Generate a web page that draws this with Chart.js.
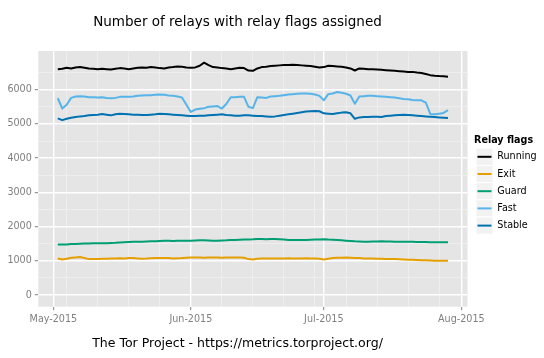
<!DOCTYPE html>
<html><head><meta charset="utf-8">
<script src="https://cdn.jsdelivr.net/npm/chart.js@4.4.0/dist/chart.umd.min.js"></script>
<style>html,body{margin:0;padding:0;background:#fff}#wrap{width:544px;height:358px;position:relative}</style>
</head><body><div id="wrap"><canvas id="c" width="544" height="358"></canvas></div>
<script>
const dates = [
'2015-05-02','2015-05-03','2015-05-04','2015-05-05','2015-05-06','2015-05-07','2015-05-08','2015-05-09','2015-05-10','2015-05-11',
'2015-05-12','2015-05-13','2015-05-14','2015-05-15','2015-05-16','2015-05-17','2015-05-18','2015-05-19','2015-05-20','2015-05-21',
'2015-05-22','2015-05-23','2015-05-24','2015-05-25','2015-05-26','2015-05-27','2015-05-28','2015-05-29','2015-05-30','2015-05-31',
'2015-06-01','2015-06-02','2015-06-03','2015-06-04','2015-06-05','2015-06-06','2015-06-07','2015-06-08','2015-06-09','2015-06-10',
'2015-06-11','2015-06-12','2015-06-13','2015-06-14','2015-06-15','2015-06-16','2015-06-17','2015-06-18','2015-06-19','2015-06-20',
'2015-06-21','2015-06-22','2015-06-23','2015-06-24','2015-06-25','2015-06-26','2015-06-27','2015-06-28','2015-06-29','2015-06-30',
'2015-07-01','2015-07-02','2015-07-03','2015-07-04','2015-07-05','2015-07-06','2015-07-07','2015-07-08','2015-07-09','2015-07-10',
'2015-07-11','2015-07-12','2015-07-13','2015-07-14','2015-07-15','2015-07-16','2015-07-17','2015-07-18','2015-07-19','2015-07-20',
'2015-07-21','2015-07-22','2015-07-23','2015-07-24','2015-07-25','2015-07-26','2015-07-27','2015-07-28','2015-07-29'];

const running = [
6600,6610,6640,6620,6650,6660,6640,6620,6610,6600,
6610,6600,6590,6610,6630,6620,6600,6620,6640,6650,
6640,6660,6650,6630,6620,6650,6660,6680,6670,6650,
6640,6650,6700,6790,6720,6660,6650,6630,6620,6600,
6620,6640,6630,6560,6550,6620,6660,6670,6690,6700,
6710,6720,6720,6725,6720,6710,6700,6690,6670,6650,
6660,6700,6690,6680,6670,6650,6620,6560,6620,6610,
6600,6600,6590,6580,6570,6560,6550,6540,6530,6520,
6520,6500,6490,6460,6425,6410,6400,6395,6380];
const exit = [
1070,1040,1060,1090,1100,1110,1080,1050,1050,1055,
1060,1060,1065,1070,1075,1070,1080,1080,1070,1060,
1065,1075,1080,1080,1085,1080,1070,1075,1080,1090,
1100,1100,1095,1090,1095,1100,1100,1090,1095,1100,
1100,1095,1090,1050,1040,1060,1070,1070,1065,1070,
1070,1070,1075,1070,1070,1070,1075,1070,1070,1060,
1040,1060,1080,1090,1090,1100,1090,1080,1080,1070,
1070,1065,1060,1060,1055,1050,1050,1045,1040,1035,
1030,1025,1020,1015,1010,1005,1000,1000,1000];
const guard = [
1480,1475,1480,1490,1495,1500,1505,1505,1510,1510,
1515,1515,1520,1525,1535,1545,1550,1555,1560,1560,
1565,1570,1575,1580,1585,1585,1580,1585,1590,1590,
1590,1595,1600,1600,1595,1590,1590,1595,1600,1610,
1610,1615,1620,1625,1630,1640,1635,1630,1635,1640,
1630,1620,1610,1610,1605,1605,1610,1615,1620,1620,
1630,1620,1615,1610,1600,1590,1580,1570,1565,1560,
1560,1565,1565,1570,1565,1565,1560,1560,1555,1555,
1555,1550,1550,1550,1545,1545,1540,1540,1540];
const fast = [
5750,5450,5560,5760,5800,5810,5800,5780,5780,5770,
5780,5760,5750,5760,5790,5790,5790,5800,5820,5830,
5840,5840,5850,5860,5850,5830,5820,5800,5770,5560,
5350,5420,5440,5460,5500,5510,5520,5450,5580,5780,
5780,5790,5790,5500,5460,5780,5770,5760,5800,5810,
5820,5840,5860,5870,5880,5890,5890,5880,5860,5820,
5690,5870,5890,5930,5910,5880,5830,5590,5800,5810,
5820,5820,5810,5800,5790,5780,5770,5750,5730,5720,
5700,5690,5690,5620,5290,5280,5300,5320,5400];
const stable = [
5160,5110,5150,5180,5200,5220,5230,5250,5260,5270,
5290,5270,5250,5280,5300,5290,5280,5270,5270,5260,
5260,5270,5280,5300,5290,5280,5270,5260,5250,5240,
5230,5230,5240,5240,5250,5260,5270,5280,5260,5250,
5240,5240,5250,5250,5240,5230,5230,5220,5210,5220,
5240,5260,5280,5300,5320,5340,5360,5370,5380,5370,
5310,5300,5290,5310,5330,5340,5310,5150,5190,5200,
5200,5210,5210,5200,5230,5240,5250,5260,5270,5260,
5250,5240,5230,5220,5210,5200,5190,5180,5170];

const seriesNames = ['Running','Exit','Guard','Fast','Stable'];
const seriesColors = ['#000000','#E69F00','#009E73','#56B4E9','#0072B2'];
const seriesValues = [running, exit, guard, fast, stable];

const xTickDates = ['2015-05-01','2015-06-01','2015-07-01','2015-08-01'];
const xTickLabels = ['May-2015','Jun-2015','Jul-2015','Aug-2015'];
const xMinorDates = ['2015-05-04','2015-05-11','2015-05-18','2015-05-25','2015-06-08','2015-06-15','2015-06-22','2015-06-29','2015-07-06','2015-07-13','2015-07-20','2015-07-27'];
const yTicks = [0,1000,2000,3000,4000,5000,6000];
const yMinorTicks = [500,1500,2500,3500,4500,5500,6500];

const chartTitle = 'Number of relays with relay flags assigned';
const legendTitle = 'Relay flags';
const captionText = 'The Tor Project - https://metrics.torproject.org/';

const DAY = 86400000, BASE = Date.UTC(2015,4,1);
const toDay = s => (Date.parse(s + 'T00:00:00Z') - BASE) / DAY;
const xMajor = xTickDates.map(toDay);
const xMinor = xMinorDates.map(toDay);

const FONT = '"DejaVu Sans", sans-serif';

const datasets = seriesNames.map((n, i) => ({
  label: n,
  data: seriesValues[i].map((v, j) => ({x: toDay(dates[j]), y: v})),
  borderColor: seriesColors[i],
  backgroundColor: seriesColors[i],
  borderWidth: 2,
  pointRadius: 0,
  tension: 0,
  fill: false,
  borderJoinStyle: 'round',
  borderCapStyle: 'butt',
  order: seriesNames.length - i
}));

const panelBg = {
  id: 'panelBg',
  beforeDraw(chart) {
    const a = chart.chartArea, ctx = chart.ctx;
    ctx.save();
    ctx.fillStyle = '#E5E5E5';
    ctx.fillRect(a.left, a.top, a.right - a.left, a.bottom - a.top);
    ctx.restore();
  }
};

function fitText(ctx, text, targetW, baseSize, weight) {
  ctx.font = (weight || '') + ' ' + baseSize + 'px ' + FONT;
  const w = ctx.measureText(text).width;
  const size = baseSize * targetW / w;
  ctx.font = (weight || '') + ' ' + size.toFixed(2) + 'px ' + FONT;
}

const decorations = {
  id: 'decorations',
  afterDraw(chart) {
    const ctx = chart.ctx;
    ctx.save();
    ctx.fillStyle = '#000';
    ctx.textBaseline = 'middle';
    ctx.textAlign = 'center';
    fitText(ctx, chartTitle, 289, 13, '');
    ctx.fillText(chartTitle, 237.5, 22);
    fitText(ctx, captionText, 291, 12, '');
    ctx.fillText(captionText, 237.5, 344);
    // legend
    ctx.textAlign = 'left';
    ctx.font = 'bold 9.6px ' + FONT;
    ctx.fillText(legendTitle, 474, 140);
    ctx.font = '9.6px ' + FONT;
    const rowH = 17.2, top0 = 148.2, bx = 476, bw = 17;
    seriesNames.forEach((n, i) => {
      const y = top0 + i * rowH;
      ctx.fillStyle = '#F2F2F2';
      ctx.fillRect(bx, y, bw, rowH);
      ctx.strokeStyle = '#FFFFFF';
      ctx.lineWidth = 1;
      ctx.strokeRect(bx, y, bw, rowH);
      ctx.strokeStyle = seriesColors[i];
      ctx.lineWidth = 2;
      ctx.beginPath();
      ctx.moveTo(bx + 1.5, y + rowH / 2);
      ctx.lineTo(bx + bw - 1.5, y + rowH / 2);
      ctx.stroke();
      ctx.fillStyle = '#000';
      ctx.fillText(n, 497.3, y + rowH / 2);
    });
    ctx.restore();
  }
};

const isXMajor = v => xMajor.includes(v);
const isYMajor = v => yTicks.includes(v);

new Chart(document.getElementById('c'), {
  type: 'line',
  data: { datasets },
  plugins: [panelBg, decorations],
  options: {
    responsive: false,
    animation: false,
    devicePixelRatio: 1,
    layout: { padding: { left: 0, right: 76.5, top: 51, bottom: 31.3 } },
    plugins: { legend: { display: false }, title: { display: false }, tooltip: { enabled: false } },
    scales: {
      x: {
        type: 'linear',
        min: -3.4,
        max: 93.4,
        afterBuildTicks: s => { s.ticks = xMinor.concat(xMajor).map(v => ({value: v})); },
        afterFit: s => { s.height = 20; },
        border: { display: false },
        grid: {
          color: c => isXMajor(c.tick.value) ? '#FFFFFF' : '#F2F2F2',
          lineWidth: c => isXMajor(c.tick.value) ? 1.4 : 0.7,
          tickColor: c => isXMajor(c.tick.value) ? '#7F7F7F' : 'rgba(0,0,0,0)',
          tickWidth: 1,
          tickLength: 3.5
        },
        ticks: {
          autoSkip: false,
          maxRotation: 0,
          padding: 4,
          color: '#7F7F7F',
          font: { family: FONT, size: 9.6 },
          callback: v => { const k = xMajor.indexOf(v); return k >= 0 ? xTickLabels[k] : ''; }
        }
      },
      y: {
        type: 'linear',
        min: -340,
        max: 7130,
        afterBuildTicks: s => { s.ticks = yMinorTicks.concat(yTicks).map(v => ({value: v})); },
        afterFit: s => { s.width = 38.3; },
        border: { display: false },
        grid: {
          color: c => isYMajor(c.tick.value) ? '#FFFFFF' : '#F2F2F2',
          lineWidth: c => isYMajor(c.tick.value) ? 1.4 : 0.7,
          tickColor: c => isYMajor(c.tick.value) ? '#7F7F7F' : 'rgba(0,0,0,0)',
          tickWidth: 1,
          tickLength: 3.5
        },
        ticks: {
          autoSkip: false,
          padding: 3,
          color: '#7F7F7F',
          font: { family: FONT, size: 9.6 },
          callback: v => isYMajor(v) ? String(v) : ''
        }
      }
    }
  }
});
</script>
</body></html>
